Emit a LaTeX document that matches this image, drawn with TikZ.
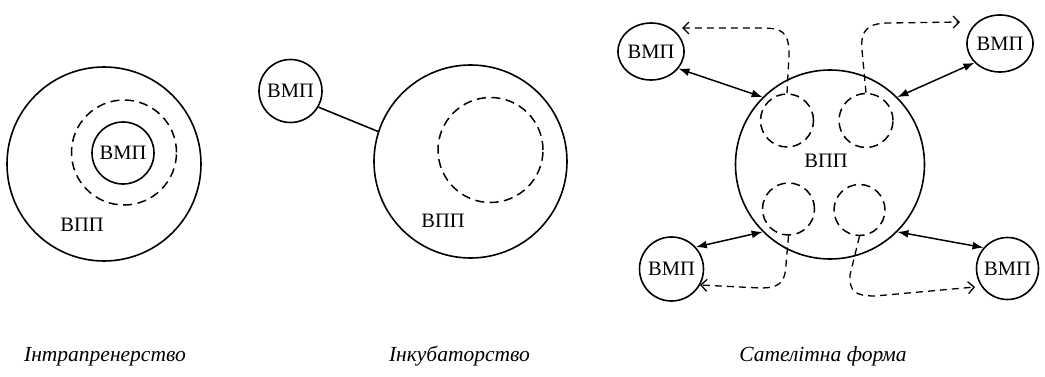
\documentclass[tikz,border=0pt]{standalone}
\usepackage{fontspec}
\setmainfont{Liberation Serif}
\usetikzlibrary{arrows.meta,shapes.geometric}
\tikzset{
  solidc/.style={draw, circle, line width=1.6pt, inner sep=0pt},
  solide/.style={draw, ellipse, line width=1.6pt, inner sep=0pt},
  dashc/.style={draw, circle, line width=1.5pt, dash pattern=on 9pt off 5.5pt, inner sep=0pt},
  lbl/.style={font=\fontsize{20.5}{24}\selectfont},
  txt/.style={font=\fontsize{20.5}{24}\selectfont, inner sep=0pt},
  captxt/.style={font=\fontsize{21.5}{25}\selectfont\itshape, inner sep=0pt, anchor=base},
  biarrow/.style={{Latex[length=11pt,width=8pt]}-{Latex[length=11pt,width=8pt]}, line width=1.5pt},
  dasharrow/.style={-{Straight Barb[length=6pt,width=12pt]}, dash pattern=on 7pt off 5pt, line width=1.3pt},
  plainline/.style={line width=1.6pt}
}
\begin{document}
\begin{tikzpicture}[x=1pt,y=-1pt]
\useasboundingbox (0,0) rectangle (1045,377);
% ---------- left panel: intrapreneurship ----------
\node[solidc, minimum size=194pt] (Lbig) at (104,164) {};
\node[dashc, minimum size=105pt] (Ldash) at (124,152.5) {};
\node[solidc, minimum size=62pt, lbl] (Lvmp) at (123,153) {ВМП};
\node[txt] (Lvpp) at (82,225) {ВПП};
\node[captxt] (Lcap) at (105,361) {Інтрапренерство};
% ---------- middle panel: incubator ----------
\node[solidc, minimum size=193pt] (Mbig) at (470.5,161.5) {};
\node[dashc, minimum size=105pt] (Mdash) at (490.5,150) {};
\node[solidc, minimum size=63pt, lbl] (Mvmp) at (290.5,91) {ВМП};
\node[txt] (Mvpp) at (443,221) {ВПП};
\draw[plainline] (Mvmp.-30) -- (Mbig.162);
\node[captxt] (Mcap) at (459.5,361) {Інкубаторство};
% ---------- right panel: satellite form ----------
\node[solidc, minimum size=189pt] (Rbig) at (830,164.5) {};
\node[txt] (Rvpp) at (826,161) {ВПП};
\node[dashc, minimum size=53pt] (c1) at (787,120.5) {};
\node[dashc, minimum size=54pt] (c2) at (866,120.5) {};
\node[dashc, minimum size=52pt] (c3) at (788.5,209) {};
\node[dashc, minimum size=51pt] (c4) at (859.5,210) {};
\node[solide, minimum width=66pt, minimum height=57pt, lbl] (v1) at (651,51.5) {ВМП};
\node[solide, minimum width=66pt, minimum height=57pt, lbl] (v2) at (1000,43.5) {ВМП};
\node[solidc, minimum size=64pt, lbl] (v3) at (671.5,269) {ВМП};
\node[solidc, minimum size=62pt, lbl] (v4) at (1007.5,268.5) {ВМП};
\draw[biarrow] (v1.-32) -- (Rbig.135);
\draw[biarrow] (Rbig.45) -- (v2.217);
\draw[biarrow] (v3.42) -- (Rbig.225);
\draw[biarrow] (Rbig.-45) -- (v4.139);
\coordinate (t1) at (682,28);
\coordinate (t2) at (960,22);
\coordinate (t3) at (700,285);
\coordinate (t4) at (975,287);
\draw[dasharrow] (c1.north) -- (789,55) .. controls (789,31) and (782,28) .. (760,28) -- (t1);
\draw[dasharrow] (c2.north) -- (862,50) .. controls (860,28) and (870,23) .. (890,23) -- (t2);
\draw[dasharrow] (c3.south) -- (786,265) .. controls (785,284) and (778,288) .. (760,288) -- (t3);
\draw[dasharrow] (c4.south) -- (850,275) .. controls (849,292) and (856,296) .. (875,296) -- (t4);
\node[captxt] (Rcap) at (823,361) {Сателітна форма};
\end{tikzpicture}
\end{document}
